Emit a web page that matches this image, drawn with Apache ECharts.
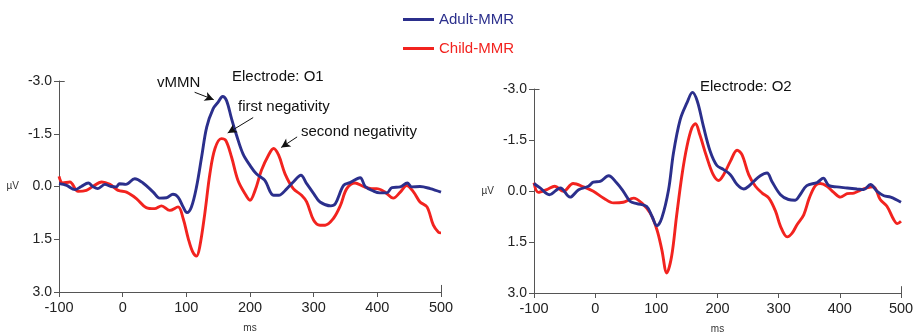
<!DOCTYPE html>
<html>
<head>
<meta charset="utf-8">
<script src="https://cdn.jsdelivr.net/npm/echarts@6/dist/echarts.min.js"></script>
<style>
  html, body { margin: 0; padding: 0; background: #fff; }
  #chart { width: 915px; height: 332px; }
</style>
</head>
<body>
<div id="chart"></div>
<script>
// Grand-average ERP difference waves (deviant minus standard), in µV; negative is up.
const seriesNames = ['Adult-MMR', 'Child-MMR'];
const xTicks = [-100, 0, 100, 200, 300, 400, 500];
const yTicks = [-3.0, -1.5, 0.0, 1.5, 3.0];

// Electrode O1 — adults
const o1AdultMs = [-100, -88, -75, -65, -54, -47, -39, -28, -18, -10, -5, 5, 19, 32, 48, 58, 69, 79, 87, 95, 101, 108, 116, 124, 132, 142, 150, 157, 163, 171, 179, 189, 200, 210, 223, 237, 245, 258, 268, 280, 289, 300, 310, 327, 334, 347, 357, 373, 381, 394, 404, 415, 423, 436, 447, 454, 467, 483, 500];
const o1AdultUv = [-0.08, -0.03, 0.09, 0.0, -0.1, 0.0, 0.06, -0.06, 0.0, 0.01, -0.08, -0.06, -0.22, -0.1, 0.16, 0.33, 0.32, 0.22, 0.3, 0.58, 0.74, 0.58, 0.01, -0.84, -1.69, -2.21, -2.4, -2.56, -2.45, -1.93, -1.45, -0.93, -0.6, -0.36, -0.18, 0.25, 0.25, 0.06, -0.13, -0.32, -0.08, 0.2, 0.44, 0.55, 0.49, -0.03, -0.11, -0.25, 0.0, 0.13, 0.18, 0.18, 0.03, 0.01, -0.1, 0.01, 0.0, 0.06, 0.16];

// Electrode O1 — children
const o1ChildMs = [-100, -94, -83, -70, -57, -47, -33, -20, -7, 6, 22, 37, 50, 61, 74, 87, 95, 103, 110, 116, 121, 129, 137, 145, 155, 162, 171, 181, 192, 200, 208, 218, 229, 237, 245, 255, 268, 281, 289, 300, 310, 318, 331, 342, 352, 365, 378, 391, 399, 412, 425, 436, 446, 457, 467, 478, 488, 496, 500];
const o1ChildUv = [-0.29, -0.1, -0.13, 0.14, 0.11, 0.0, -0.13, -0.06, 0.11, 0.16, 0.35, 0.6, 0.63, 0.55, 0.68, 0.58, 0.91, 1.48, 1.86, 1.98, 1.72, 0.77, -0.36, -1.08, -1.36, -1.31, -0.84, -0.18, 0.2, 0.39, 0.11, -0.46, -0.89, -1.08, -0.89, -0.36, 0.06, 0.25, 0.44, 0.96, 1.1, 1.1, 0.91, 0.54, 0.06, -0.1, 0.0, 0.06, 0.06, 0.16, 0.33, 0.16, -0.03, 0.16, 0.44, 0.58, 1.1, 1.3, 1.32];

// Electrode O2 — adults
const o2AdultMs = [-100, -90, -75, -57, -41, -27, -11, -3, 8, 22, 35, 46, 57, 68, 84, 93, 101, 109, 120, 128, 139, 150, 159, 167, 177, 188, 199, 210, 221, 232, 243, 251, 259, 270, 281, 289, 303, 316, 327, 335, 346, 363, 373, 382, 395, 412, 428, 439, 450, 461, 472, 483, 500];
const o2AdultUv = [-0.22, -0.09, 0.11, -0.09, 0.18, -0.04, -0.14, -0.26, -0.28, -0.45, -0.24, 0.01, 0.3, 0.37, 0.45, 0.75, 1.02, 0.79, -0.04, -1.12, -2.1, -2.59, -2.9, -2.64, -1.9, -1.17, -0.75, -0.63, -0.48, -0.19, -0.06, -0.14, -0.28, -0.45, -0.53, -0.28, 0.11, 0.25, 0.27, 0.11, -0.16, -0.25, -0.38, -0.16, -0.12, -0.09, -0.06, -0.04, -0.19, 0.01, 0.14, 0.18, 0.33];

// Electrode O2 — children
const o2ChildMs = [-100, -93, -79, -66, -52, -36, -19, -3, 14, 30, 46, 63, 76, 90, 101, 109, 117, 125, 133, 142, 150, 158, 164, 171, 182, 193, 202, 210, 221, 232, 240, 251, 262, 273, 284, 295, 303, 314, 322, 330, 341, 350, 360, 368, 379, 390, 401, 412, 423, 433, 444, 455, 466, 477, 488, 494, 500];
const o2ChildUv = [-0.24, 0.04, -0.04, -0.14, 0.01, -0.22, -0.12, 0.01, 0.21, 0.35, 0.33, 0.21, 0.35, 0.65, 1.14, 1.73, 2.41, 1.92, 0.75, -0.48, -1.31, -1.85, -1.98, -1.66, -1.02, -0.48, -0.31, -0.48, -0.87, -1.2, -1.07, -0.48, -0.14, 0.06, 0.21, 0.6, 1.04, 1.35, 1.24, 0.99, 0.7, 0.21, -0.16, -0.22, -0.14, 0.04, 0.18, 0.08, 0.06, -0.02, -0.09, -0.12, 0.25, 0.45, 0.84, 0.96, 0.89];

const BLUE = '#2b2f8c';
const RED = '#f2231f';
const AXIS = '#555';
const FONT = '"Liberation Sans", Arial, sans-serif';

const zip = (xs, ys) => xs.map((x, i) => [x, ys[i]]);

function xAxisFor(gridIndex) {
  return {
    type: 'value', gridIndex,
    min: xTicks[0], max: xTicks[xTicks.length - 1], interval: 100,
    name: 'ms', nameLocation: 'middle', nameGap: 31,
    nameTextStyle: { fontFamily: FONT, fontSize: 10, color: '#333' },
    axisLine: { show: true, onZero: false, lineStyle: { color: AXIS, width: 1 } },
    axisTick: { show: true, length: 5, lineStyle: { color: AXIS } },
    axisLabel: { fontFamily: FONT, fontSize: 14.5, color: '#222', margin: 8 },
    splitLine: { show: false }
  };
}

function yAxisFor(gridIndex) {
  return {
    type: 'value', gridIndex, inverse: true,
    min: yTicks[0], max: yTicks[yTicks.length - 1], interval: 1.5,
    name: 'µV', nameLocation: 'middle', nameRotate: 0, nameGap: 40,
    nameTextStyle: { fontFamily: FONT, fontSize: 10, color: '#333' },
    axisLine: { show: true, onZero: false, lineStyle: { color: AXIS, width: 1 } },
    axisTick: { show: true, length: 5, lineStyle: { color: AXIS } },
    axisLabel: { fontFamily: FONT, fontSize: 14, color: '#222', margin: 7,
                 formatter: v => v.toFixed(1) },
    splitLine: { show: false }
  };
}

// Short tick marks that cross into the plot at the top-left and bottom-right corners
function cornerTicks() {
  return {
    symbol: ['none', 'none'], silent: true, label: { show: false },
    lineStyle: { color: AXIS, width: 1, type: 'solid' },
    data: [
      [{ coord: [-100, -3] }, { coord: [-91, -3] }],
      [{ coord: [500, 3] }, { coord: [500, 2.8] }]
    ]
  };
}

function wave(name, color, xIdx, data, markLine) {
  const s = {
    name, type: 'line', xAxisIndex: xIdx, yAxisIndex: xIdx,
    data, smooth: 0.35, showSymbol: false, symbol: 'none',
    lineStyle: { color, width: 2.9 }, itemStyle: { color },
    z: name === seriesNames[0] ? 3 : 2
  };
  if (markLine) s.markLine = markLine;
  return s;
}

// Arrows pointing at the labelled peaks over the O1 waves
const arrowLine = {
  symbol: ['none', 'arrow'], symbolSize: [7, 9], silent: true, label: { show: false },
  lineStyle: { color: '#111', width: 1, type: 'solid' },
  data: [
    [{ coord: [113, -2.68] }, { coord: [143, -2.47] }],
    [{ coord: [205, -1.96] }, { coord: [165, -1.52] }],
    [{ coord: [274, -1.41] }, { coord: [249, -1.11] }]
  ]
};

const textStyle = (x, y, text) => ({
  type: 'text', left: x, top: y,
  style: { text, font: '15px ' + FONT, fill: '#111' }
});

const chart = echarts.init(document.getElementById('chart'), null, { renderer: 'canvas' });
chart.setOption({
  animation: false,
  backgroundColor: '#fff',
  legend: {
    left: 398, top: 7, orient: 'vertical', itemGap: 14,
    itemWidth: 31, itemHeight: 3, icon: 'rect',
    textStyle: { fontFamily: FONT, fontSize: 15 },
    data: [
      { name: seriesNames[0], textStyle: { color: BLUE } },
      { name: seriesNames[1], textStyle: { color: RED } }
    ]
  },
  grid: [
    { left: 59, right: 474, top: 81, bottom: 40, outerBoundsMode: 'none' },
    { left: 534, right: 14, top: 89, bottom: 39, outerBoundsMode: 'none' }
  ],
  xAxis: [xAxisFor(0), xAxisFor(1)],
  yAxis: [yAxisFor(0), yAxisFor(1)],
  series: [
    wave(seriesNames[1], RED, 0, zip(o1ChildMs, o1ChildUv), cornerTicks()),
    wave(seriesNames[0], BLUE, 0, zip(o1AdultMs, o1AdultUv), arrowLine),
    wave(seriesNames[1], RED, 1, zip(o2ChildMs, o2ChildUv), cornerTicks()),
    wave(seriesNames[0], BLUE, 1, zip(o2AdultMs, o2AdultUv))
  ],
  graphic: [
    textStyle(232, 69, 'Electrode: O1'),
    textStyle(157, 75, 'vMMN'),
    textStyle(238, 99, 'first negativity'),
    textStyle(301, 124, 'second negativity'),
    textStyle(700, 79, 'Electrode: O2')
  ]
});
</script>
</body>
</html>
